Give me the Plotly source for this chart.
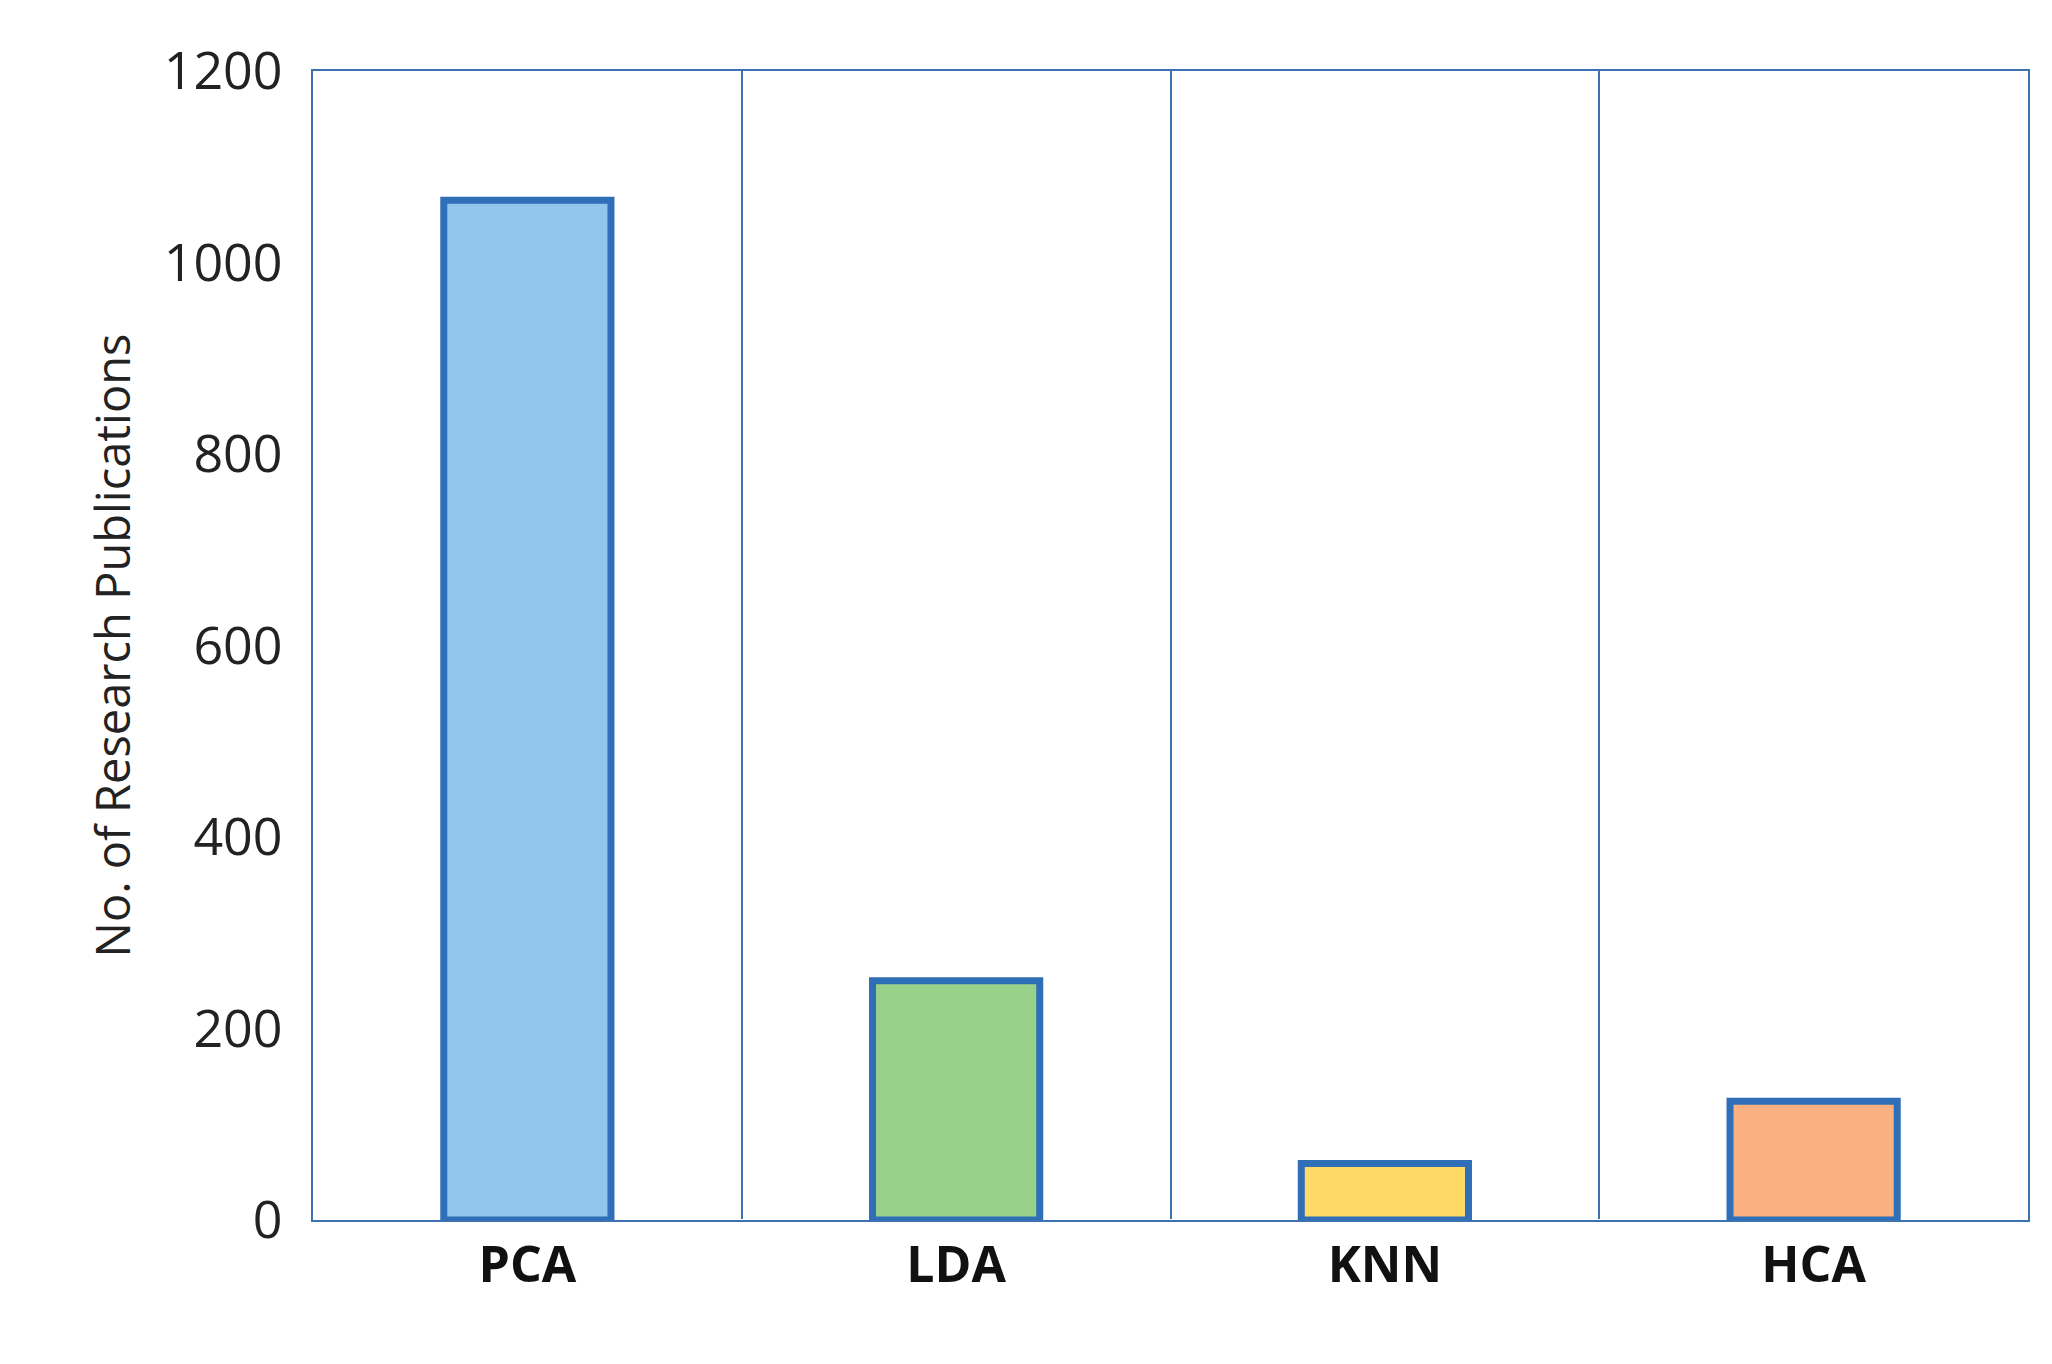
import plotly.graph_objects as go

categories = ["PCA", "LDA", "KNN", "HCA"]
values = [1065, 250, 59, 124]
colors = ["#92C5EC", "#98D28A", "#FFD966", "#F9B183"]

fig = go.Figure(go.Bar(
    x=categories, y=values, width=0.39,
    marker=dict(color=colors, line=dict(color="#2E6FB8", width=7)),
))
fig.update_layout(
    width=2052, height=1364, plot_bgcolor="white", paper_bgcolor="white",
    margin=dict(l=305, r=32, t=63, b=152), showlegend=False,
    font=dict(family="Open Sans", color="#222"),
)
fig.update_xaxes(
    tickson="boundaries", showgrid=True, gridcolor="#3C72B0", gridwidth=2,
    showline=True, linecolor="#3C72B0", linewidth=2, mirror=True,
    ticks="outside", ticklen=40, tickcolor="rgba(0,0,0,0)",
    tickfont=dict(size=50, family="Open Sans", color="#111", weight="bold"),
)
fig.update_yaxes(
    range=[0, 1200], dtick=200, showgrid=False,
    showline=True, linecolor="#3C72B0", linewidth=2, mirror=True,
    tickfont=dict(size=52), ticklen=18, ticks="outside", tickcolor="rgba(0,0,0,0)",
    title=dict(text="No. of Research Publications", font=dict(size=47), standoff=18),
)
fig.write_html("out.html")
